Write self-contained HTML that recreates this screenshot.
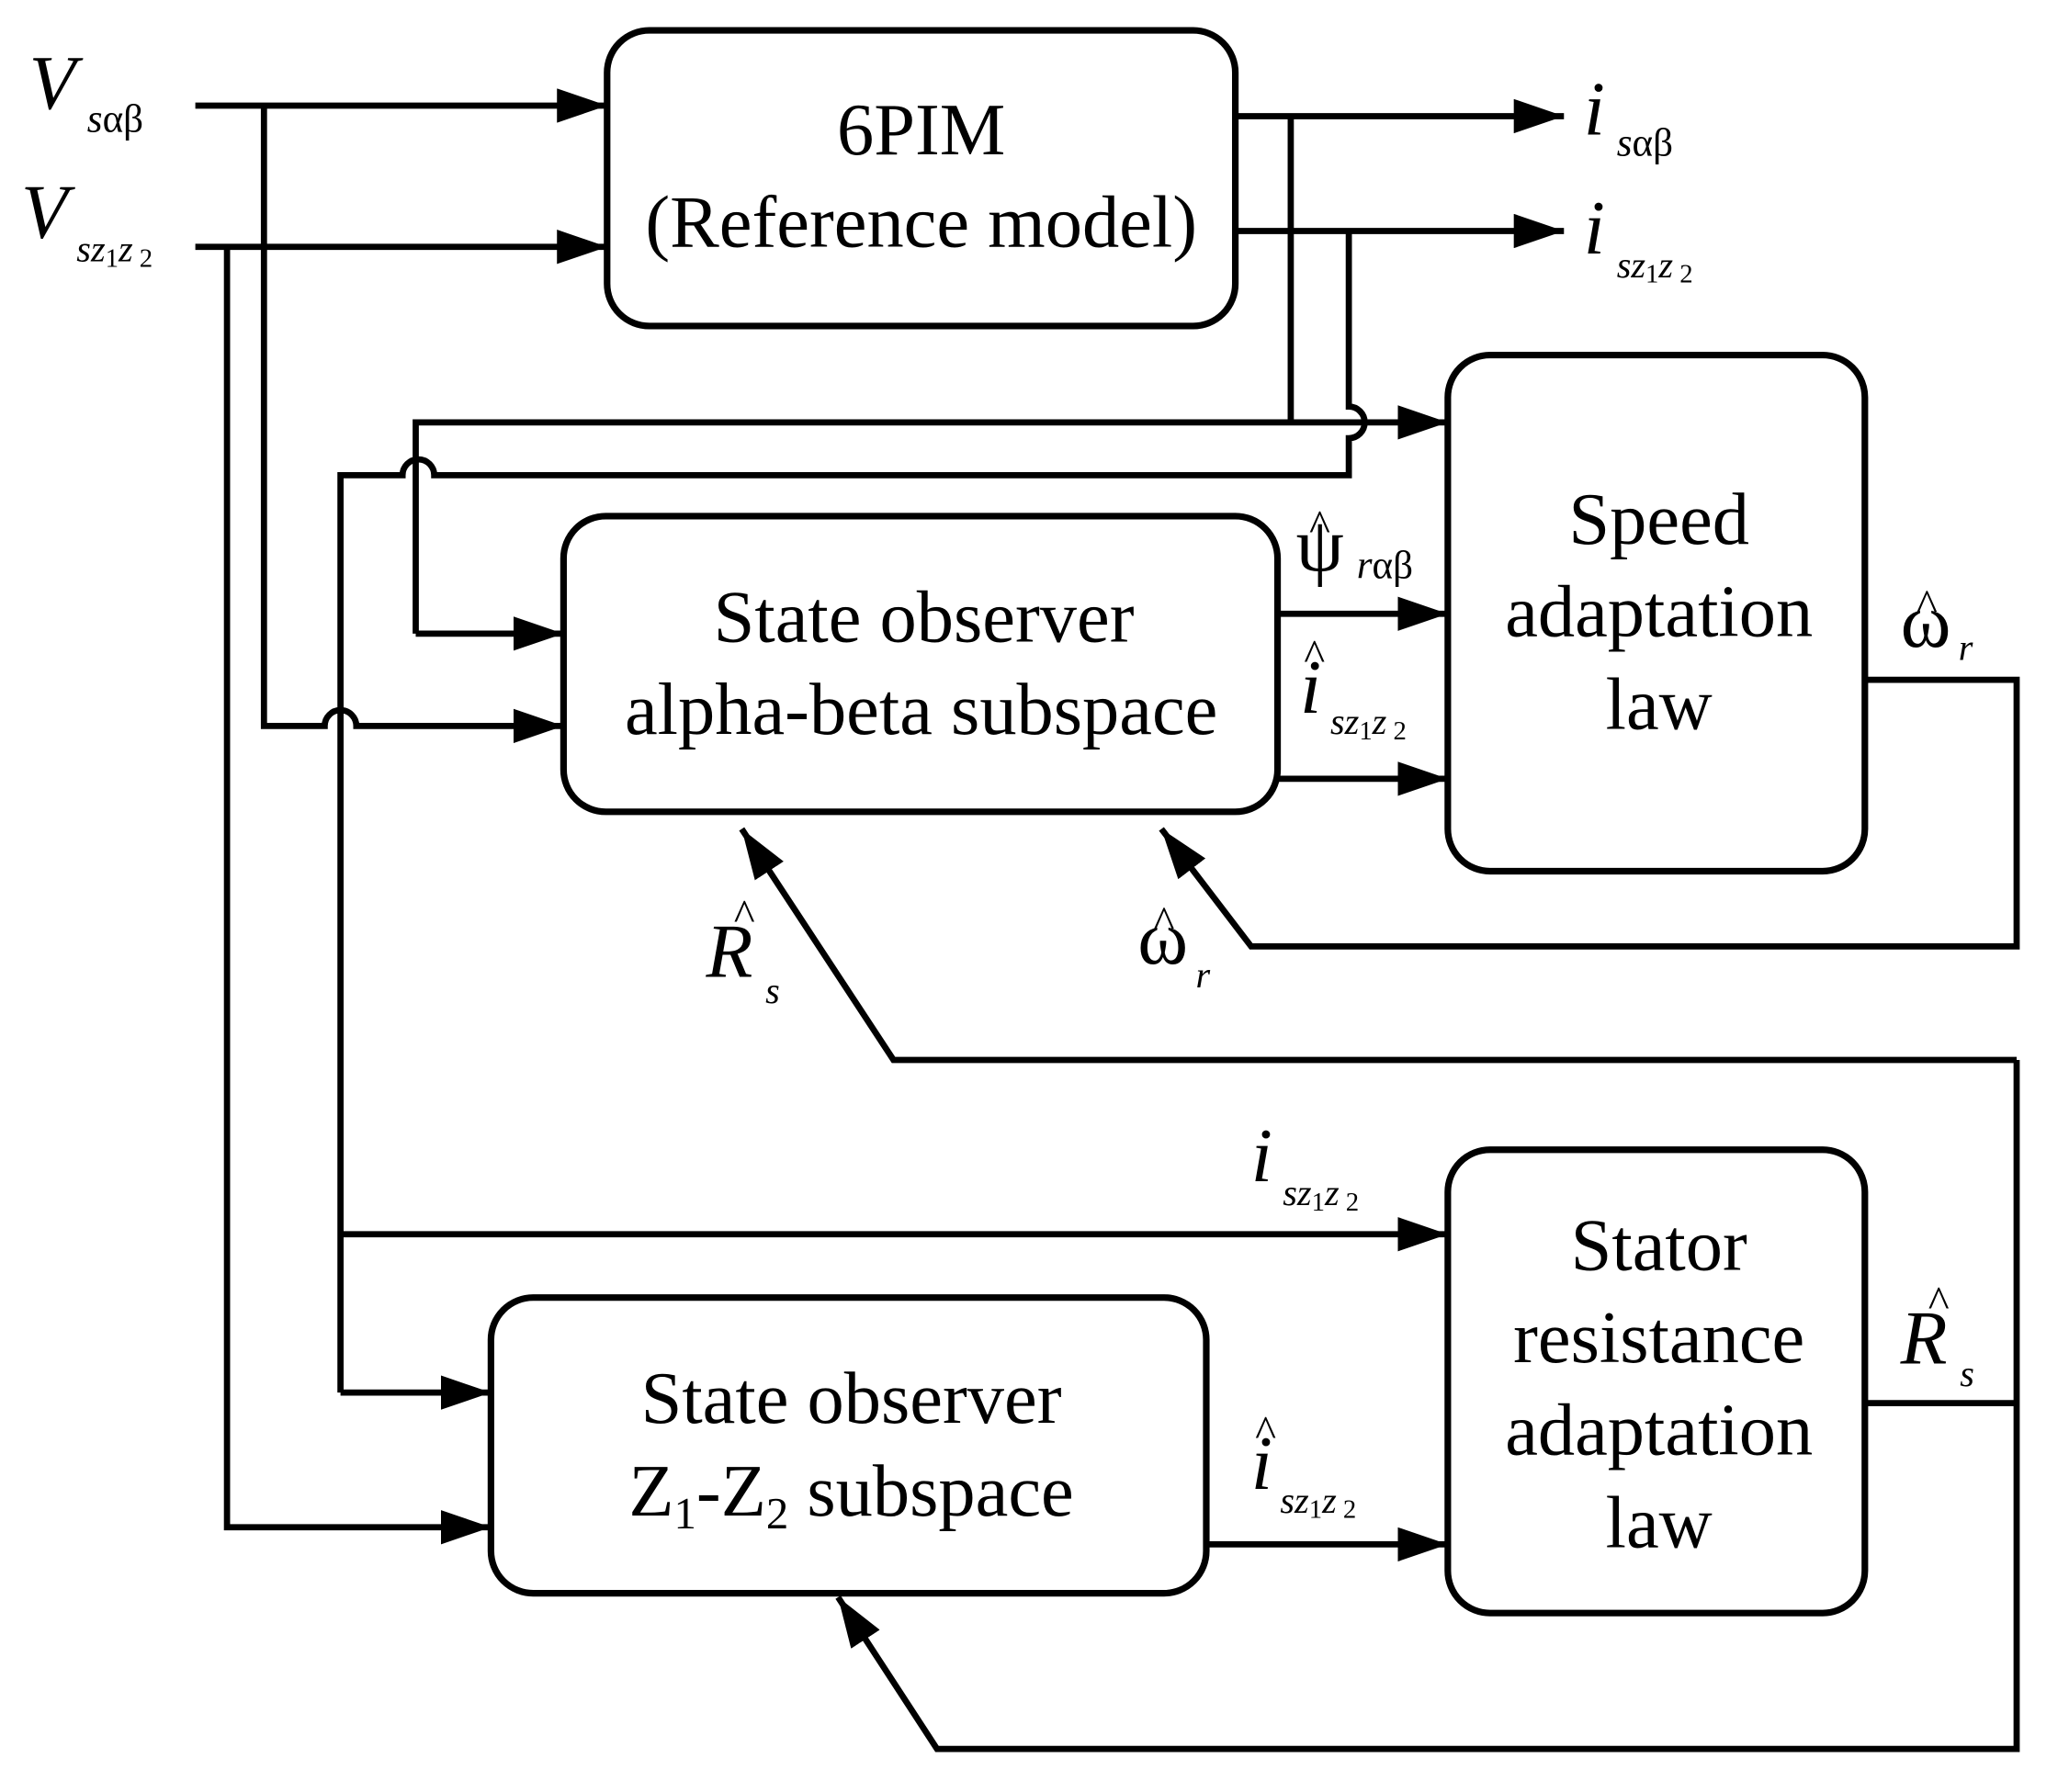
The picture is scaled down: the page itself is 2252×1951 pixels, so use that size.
<!DOCTYPE html>
<html><head><meta charset="utf-8"><style>
html,body{margin:0;padding:0;background:#fff}
svg{display:block}
text{font-family:"Liberation Serif",serif;fill:#000}
.b{font-size:56px;text-anchor:middle}
.i{font-style:italic}
</style></head><body>
<svg width="2252" height="1951" viewBox="0 0 1552 1344" preserveAspectRatio="none" xmlns="http://www.w3.org/2000/svg">
<defs>
<marker id="ar" markerWidth="38" markerHeight="26" refX="38" refY="13" orient="auto" markerUnits="userSpaceOnUse"><path d="M0,0L38,13L0,26z"/></marker></defs>
<g transform="scale(0.99)">
<g fill="none" stroke="#000" stroke-width="5">
<rect x="460" y="23" width="476" height="224" rx="32"/>
<rect x="427" y="391" width="541" height="224" rx="32"/>
<rect x="1097" y="269" width="316" height="391" rx="32"/>
<rect x="372" y="983" width="542" height="224" rx="32"/>
<rect x="1097" y="871" width="316" height="351" rx="32"/>
<g stroke-width="4.7">
<path d="M148,80H460" marker-end="url(#ar)"/>
<path d="M148,187H460" marker-end="url(#ar)"/>
<path d="M936,88H1185" marker-end="url(#ar)"/>
<path d="M936,175H1185" marker-end="url(#ar)"/>
<path d="M978,88V320"/>
<path d="M1022,175V308A12,12 0 0 1 1022,332V360H329A12,12 0 0 0 305,360H258V1055"/>
<path d="M315,480V320H1097" marker-end="url(#ar)"/>
<path d="M315,480H427" marker-end="url(#ar)"/>
<path d="M200,80V550H246A12,12 0 0 1 270,550H427" marker-end="url(#ar)"/>
<path d="M258,935H1097" marker-end="url(#ar)"/>
<path d="M258,1055H372" marker-end="url(#ar)"/>
<path d="M172,187V1157H372" marker-end="url(#ar)"/>
<path d="M968,465H1097" marker-end="url(#ar)"/>
<path d="M968,590H1097" marker-end="url(#ar)"/>
<path d="M914,1170H1097" marker-end="url(#ar)"/>
<path d="M1413,515H1528V717H948L880,628" marker-end="url(#ar)"/>
<path d="M1413,1063H1528"/>
<path d="M1528,803V1325H710L635,1210" marker-end="url(#ar)"/>
<path d="M1528,803H677L562,628" marker-end="url(#ar)"/>
</g></g>
<text class="b" x="698" y="117">6PIM</text>
<text class="b" x="698" y="187">(Reference model)</text>
<text class="b" x="700" y="486">State observer</text>
<text class="b" x="698" y="556">alpha-beta subspace</text>
<text class="b" x="1257" y="412">Speed</text>
<text class="b" x="1257" y="482">adaptation</text>
<text class="b" x="1257" y="552">law</text>
<text class="b" x="645" y="1078">State observer</text>
<text class="b" x="645" y="1148">Z<tspan font-size="34" dy="10">1</tspan><tspan dy="-10">-Z</tspan><tspan font-size="34" dy="10">2</tspan><tspan dy="-10"> subspace</tspan></text>
<text class="b" x="1257" y="962">Stator</text>
<text class="b" x="1257" y="1032">resistance</text>
<text class="b" x="1257" y="1102">adaptation</text>
<text class="b" x="1257" y="1172">law</text>
<g font-size="58" class="i">
<text x="22" y="82" class="i">V</text><text x="66" y="100" font-size="30" class="i">s<tspan font-style="normal">αβ</tspan></text>
<text x="16" y="180" class="i">V</text><text x="58" y="198" font-size="28" class="i">sz<tspan font-size="20" dy="4" font-style="normal">1</tspan><tspan dy="-4">z</tspan><tspan font-size="20" dy="4" font-style="normal"> 2</tspan></text>
<text x="1200" y="102" class="i">i</text><text x="1225" y="118" font-size="30" class="i">s<tspan font-style="normal">αβ</tspan></text>
<text x="1200" y="192" class="i">i</text><text x="1225" y="210" font-size="28" class="i">sz<tspan font-size="20" dy="4" font-style="normal">1</tspan><tspan dy="-4">z</tspan><tspan font-size="20" dy="4" font-style="normal"> 2</tspan></text>
<text x="982" y="432" font-style="normal">ψ</text><text x="992" y="410" font-size="34" font-style="normal">^</text><text x="1028" y="438" font-size="30" class="i">r<tspan font-style="normal">αβ</tspan></text>
<text x="985" y="540" class="i">i</text><text x="988" y="508" font-size="34" font-style="normal">^</text><text x="1008" y="556" font-size="28" class="i">sz<tspan font-size="20" dy="4" font-style="normal">1</tspan><tspan dy="-4">z</tspan><tspan font-size="20" dy="4" font-style="normal"> 2</tspan></text>
<text x="1440" y="490" font-style="normal">ω</text><text x="1452" y="470" font-size="34" font-style="normal">^</text><text x="1484" y="500" font-size="28" class="i">r</text>
<text x="862" y="730" font-style="normal">ω</text><text x="874" y="710" font-size="34" font-style="normal">^</text><text x="906" y="748" font-size="28" class="i">r</text>
<text x="535" y="740" class="i">R</text><text x="556" y="705" font-size="34" font-style="normal">^</text><text x="580" y="760" font-size="28" class="i">s</text>
<text x="1440" y="1033" class="i">R</text><text x="1461" y="998" font-size="34" font-style="normal">^</text><text x="1485" y="1050" font-size="28" class="i">s</text>
<text x="948" y="895" class="i">i</text><text x="972" y="913" font-size="28" class="i">sz<tspan font-size="20" dy="4" font-style="normal">1</tspan><tspan dy="-4">z</tspan><tspan font-size="20" dy="4" font-style="normal"> 2</tspan></text>
<text x="948" y="1128" class="i">i</text><text x="951" y="1096" font-size="34" font-style="normal">^</text><text x="970" y="1146" font-size="28" class="i">sz<tspan font-size="20" dy="4" font-style="normal">1</tspan><tspan dy="-4">z</tspan><tspan font-size="20" dy="4" font-style="normal"> 2</tspan></text>
</g>
</g>
</svg>
</body></html>
